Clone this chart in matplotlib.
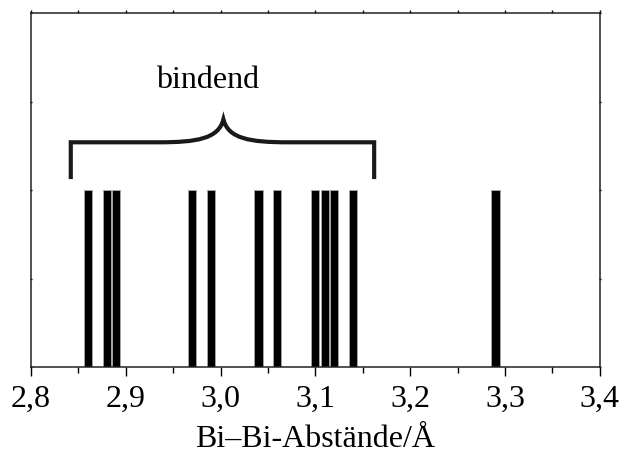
import matplotlib.pyplot as plt
from matplotlib.path import Path
from matplotlib.patches import PathPatch
from matplotlib.ticker import MultipleLocator, FuncFormatter

# Bi-Bi distances (Angstrom), one bar per distance
distances = [2.86, 2.88, 2.89, 2.97, 2.99, 3.04, 3.06, 3.10, 3.11, 3.12, 3.14, 3.29]
counts = [1, 1, 1, 1, 1, 1, 1, 1, 1, 1, 1, 1]
x_ticks = [2.8, 2.9, 3.0, 3.1, 3.2, 3.3, 3.4]
label_text = 'bindend'

plt.rcParams['font.family'] = ['Liberation Serif', 'DejaVu Serif']

fig = plt.figure(figsize=(6.19, 4.56), dpi=100)
ax = fig.add_axes([0.050, 0.193, 0.919, 0.776])

ax.bar(distances, counts, width=0.0085, color='black',
       edgecolor='#aaaaaa', linewidth=0.6)

ax.set_xlim(2.8, 3.4)
ax.set_ylim(0, 2)

ax.set_xticks(x_ticks)
ax.xaxis.set_minor_locator(MultipleLocator(0.05))
ax.xaxis.set_major_formatter(FuncFormatter(lambda v, p: '{:.1f}'.format(v).replace('.', ',')))
ax.yaxis.set_major_locator(MultipleLocator(0.5))

ax.tick_params(axis='x', which='major', direction='out', length=6.5, width=1,
               labelsize=23, pad=5.5, top=True)
ax.tick_params(axis='x', which='minor', direction='out', length=4, width=1, top=True)
ax.tick_params(axis='y', which='both', direction='inout', length=2, width=1,
               left=True, right=True, labelleft=False)
# top ticks are tiny marks
for t in ax.xaxis.get_major_ticks() + ax.xaxis.get_minor_ticks():
    t.tick2line.set_markersize(2)

for s in ax.spines.values():
    s.set_linewidth(1.1)
    s.set_color('#222222')

ax.set_xlabel('Bi\u2013Bi-Abst\u00e4nde/\u00c5', fontsize=23, labelpad=8)

# curly brace over the bonding distances
xl, xr, xm = 2.842, 3.162, 3.003
yb, yh, yp = 1.062, 1.27, 1.40
verts = [(xl, yb), (xl, yh), (2.935, yh),
         (2.975, yh), (2.998, 1.29), (xm, yp),
         (3.008, 1.29), (3.031, yh), (3.071, yh),
         (xr, yh), (xr, yb)]
codes = [Path.MOVETO, Path.LINETO, Path.LINETO,
         Path.CURVE4, Path.CURVE4, Path.CURVE4,
         Path.CURVE4, Path.CURVE4, Path.CURVE4,
         Path.LINETO, Path.LINETO]
ax.add_patch(PathPatch(Path(verts, codes), fill=False, edgecolor='#1a1a1a',
                       linewidth=3, capstyle='butt', joinstyle='miter'))

ax.text(2.986, 1.582, label_text, fontsize=23, ha='center', va='baseline')

fig.savefig('out.png', dpi=100)
